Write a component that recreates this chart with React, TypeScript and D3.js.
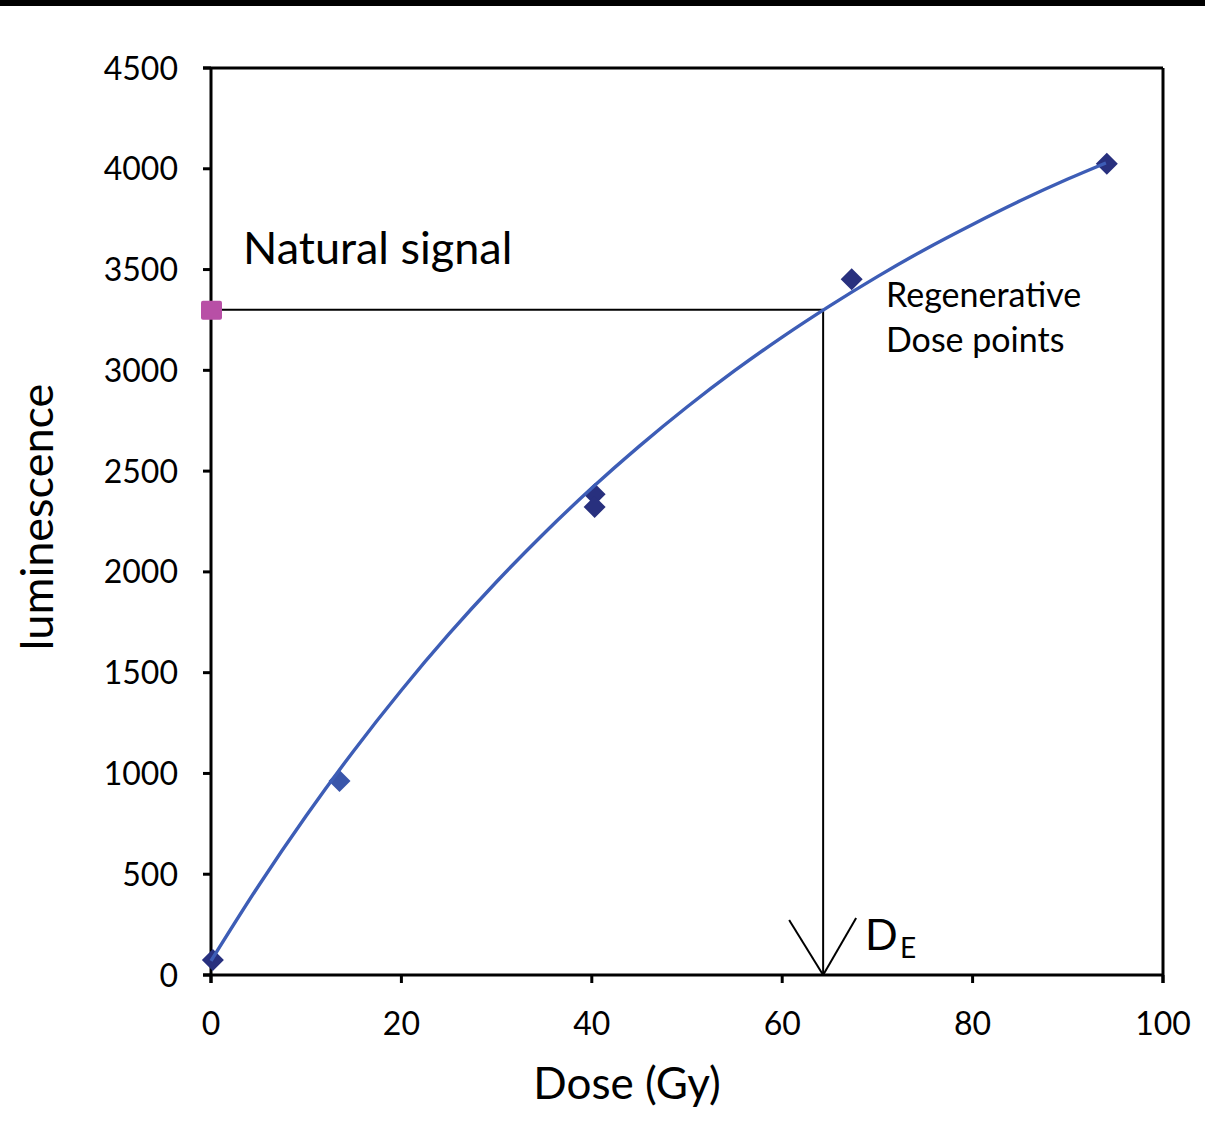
import React from "react";
import * as d3 from "d3";

const W = 1205;
const H = 1124;

const xTicks = [0, 20, 40, 60, 80, 100];
const yTicks = [0, 500, 1000, 1500, 2000, 2500, 3000, 3500, 4000, 4500];

// Regenerative dose points (Gy, luminescence)
const regenDose = [0.2, 13.5, 40.3, 40.3, 67.3, 94.1];
const regenLum = [74, 962, 2385, 2322, 3452, 4025];

// Fitted growth curve
const curveDose = [0, 5, 10, 15, 20, 25, 30, 35, 40, 45, 50, 55, 60, 65, 70, 75, 80, 85, 90, 94];
const curveLum = [70, 443, 790, 1113, 1413, 1692, 1951, 2192, 2416, 2624, 2818, 2998, 3165, 3320, 3465, 3600, 3724, 3841, 3949, 4029];

// Natural signal and equivalent dose
const naturalLum = 3300;
const equivDose = 64.3;

const FONT = "Lato, 'Open Sans', sans-serif";

export default function App() {
  const left = 211, right = 1163, top = 68, bottom = 975;
  const x = d3.scaleLinear().domain([0, 100]).range([left, right]);
  const y = d3.scaleLinear().domain([0, 4500]).range([bottom, top]);

  const line = d3
    .line<number>()
    .x((_, i) => x(curveDose[i]))
    .y((d) => y(d))
    .curve(d3.curveMonotoneX);

  const diamond = (cx: number, cy: number, r: number) =>
    `M${cx},${cy - r}L${cx + r},${cy}L${cx},${cy + r}L${cx - r},${cy}Z`;

  const deX = x(equivDose);
  const natY = y(naturalLum);

  return (
    <svg
      width={W}
      height={H}
      style={{ position: "absolute", left: 0, top: 0, background: "#fff" }}
      fontFamily={FONT}
    >
      <rect x={0} y={0} width={W} height={6} fill="#000" />

      {/* frame */}
      <line x1={left - 8} y1={top} x2={right} y2={top} stroke="#000" strokeWidth={3} />
      <line x1={right} y1={top} x2={right} y2={bottom + 8} stroke="#000" strokeWidth={3} />
      <line x1={left - 8} y1={bottom} x2={right} y2={bottom} stroke="#000" strokeWidth={3} />
      <line x1={left} y1={top} x2={left} y2={bottom + 8} stroke="#000" strokeWidth={3} />

      {/* y ticks */}
      {yTicks.map((t) => (
        <g key={"y" + t}>
          <line x1={left - 8} x2={left} y1={y(t)} y2={y(t)} stroke="#000" strokeWidth={3} />
          <text x={178} y={y(t)} dy="0.36em" textAnchor="end" fontSize={32} fill="#000">
            {t}
          </text>
        </g>
      ))}
      {/* x ticks */}
      {xTicks.map((t) => (
        <g key={"x" + t}>
          <line x1={x(t)} x2={x(t)} y1={bottom} y2={bottom + 8} stroke="#000" strokeWidth={3} />
          <text x={x(t)} y={1023} dy="0.36em" textAnchor="middle" fontSize={32} fill="#000">
            {t}
          </text>
        </g>
      ))}

      {/* guide lines */}
      <line x1={left} y1={natY} x2={deX} y2={natY} stroke="#000" strokeWidth={2} />
      <line x1={deX} y1={natY} x2={deX} y2={bottom} stroke="#000" strokeWidth={2} />
      <line x1={deX - 34} y1={920} x2={deX} y2={bottom} stroke="#000" strokeWidth={2} />
      <line x1={deX + 33} y1={918} x2={deX} y2={bottom} stroke="#000" strokeWidth={2} />

      {/* points */}
      {regenDose.map((d, i) => (
        <path
          key={"p" + i}
          d={diamond(x(d), y(regenLum[i]), 11)}
          fill={i === 1 ? "#3a56aa" : "#28307e"}
        />
      ))}

      {/* curve */}
      <path d={line(curveLum) || ""} fill="none" stroke="#3d5db6" strokeWidth={3.4} />

      {/* natural signal */}
      <rect x={left - 10} y={natY - 9} width={21} height={19} rx={2} fill="#b84fa6" />

      {/* labels */}
      <text x={243} y={264} fontSize={45} fill="#000">Natural signal</text>
      <text x={886} y={307} fontSize={34} fill="#000">Regenerative</text>
      <text x={886} y={352} fontSize={34} fill="#000">Dose points</text>
      <text x={865} y={950} fontSize={43} fill="#000">D</text>
      <text x={900} y={958} fontSize={28} fill="#000">E</text>

      <text x={627} y={1099} textAnchor="middle" fontSize={44} fill="#000">Dose (Gy)</text>
      <text
        transform={`translate(53, 517) rotate(-90)`}
        textAnchor="middle"
        fontSize={45}
        fill="#000"
      >
        luminescence
      </text>
    </svg>
  );
}
